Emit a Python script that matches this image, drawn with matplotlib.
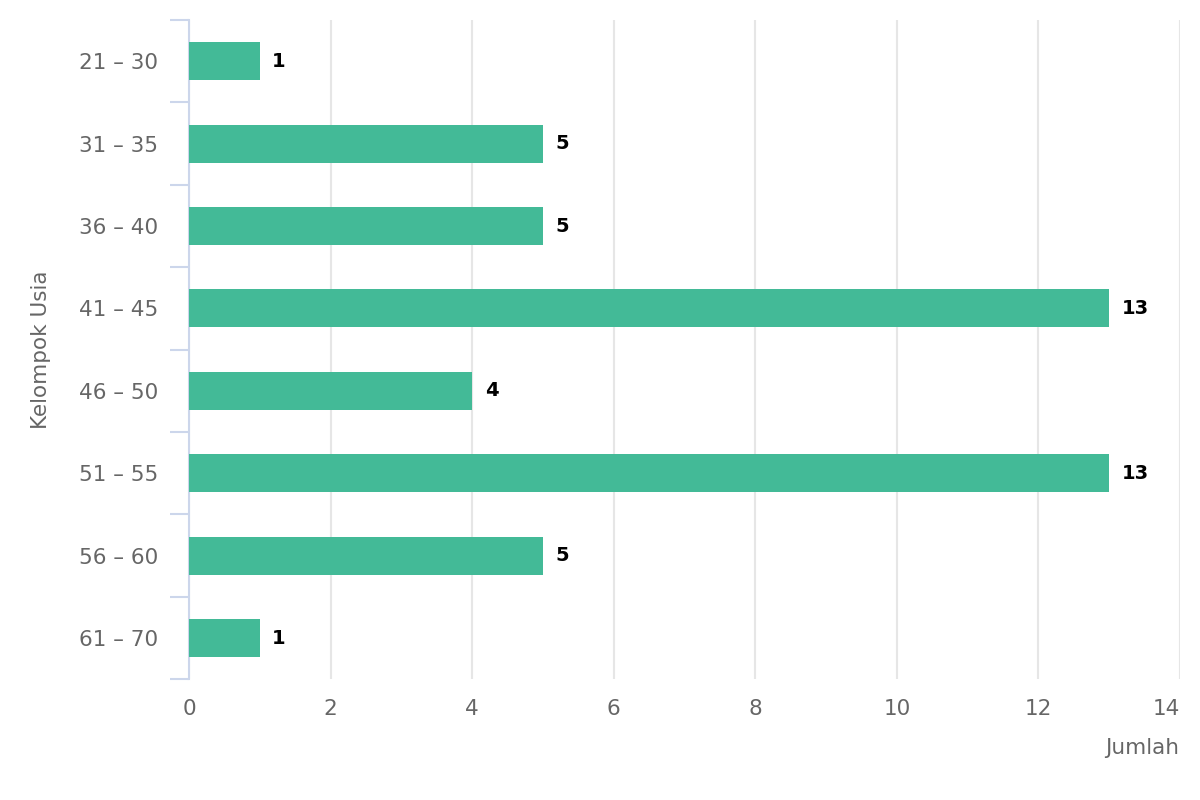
import matplotlib.pyplot as plt
import numpy as np

# data
kelompok = ['21 – 30', '31 – 35', '36 – 40', '41 – 45', '46 – 50', '51 – 55', '56 – 60', '61 – 70']
jumlah = [1, 5, 5, 13, 4, 13, 5, 1]
x_ticks = [0, 2, 4, 6, 8, 10, 12, 14]

fig = plt.figure(figsize=(12, 8), dpi=100)
ax = fig.add_axes([0.1575, 0.151, 0.8258, 0.824])

y = np.arange(len(kelompok))
ax.barh(y, jumlah, height=0.46, color='#43ba97', zorder=3)

# value labels
for yi, v in zip(y, jumlah):
    ax.annotate(str(v), (v, yi), xytext=(9, 0), textcoords='offset points',
                ha='left', va='center', fontsize=14, fontweight='bold', color='black')

ax.set_xlim(0, 14)
ax.set_ylim(len(kelompok) - 0.5, -0.5)
ax.set_xticks(x_ticks)
ax.set_xticklabels([str(t) for t in x_ticks])
ax.grid(axis='x', color='#e6e6e6', linewidth=1.5, zorder=0)
# last label kept inside the plot, like the original
ax.get_xticklabels()[-1].set_horizontalalignment('right')

# category labels in the middle, tick marks on the boundaries
ax.set_yticks(y)
ax.set_yticklabels(kelompok)
ax.set_yticks(np.arange(len(kelompok) + 1) - 0.5, minor=True)
ax.tick_params(axis='y', which='major', length=0, pad=22, labelsize=15.5, labelcolor='#666666')
ax.tick_params(axis='y', which='minor', length=14, width=1.5, color='#ccd6eb')
ax.tick_params(axis='x', length=0, pad=14, labelsize=15.5, labelcolor='#666666')

for s in ['top', 'right', 'bottom']:
    ax.spines[s].set_visible(False)
ax.spines['left'].set_color('#ccd6eb')
ax.spines['left'].set_linewidth(1.5)

ax.set_ylabel('Kelompok Usia', fontsize=15.5, color='#666666', labelpad=20)
fig.text(0.983, 0.065, 'Jumlah', ha='right', va='center', fontsize=15.5, color='#666666')

plt.savefig('out.png')
